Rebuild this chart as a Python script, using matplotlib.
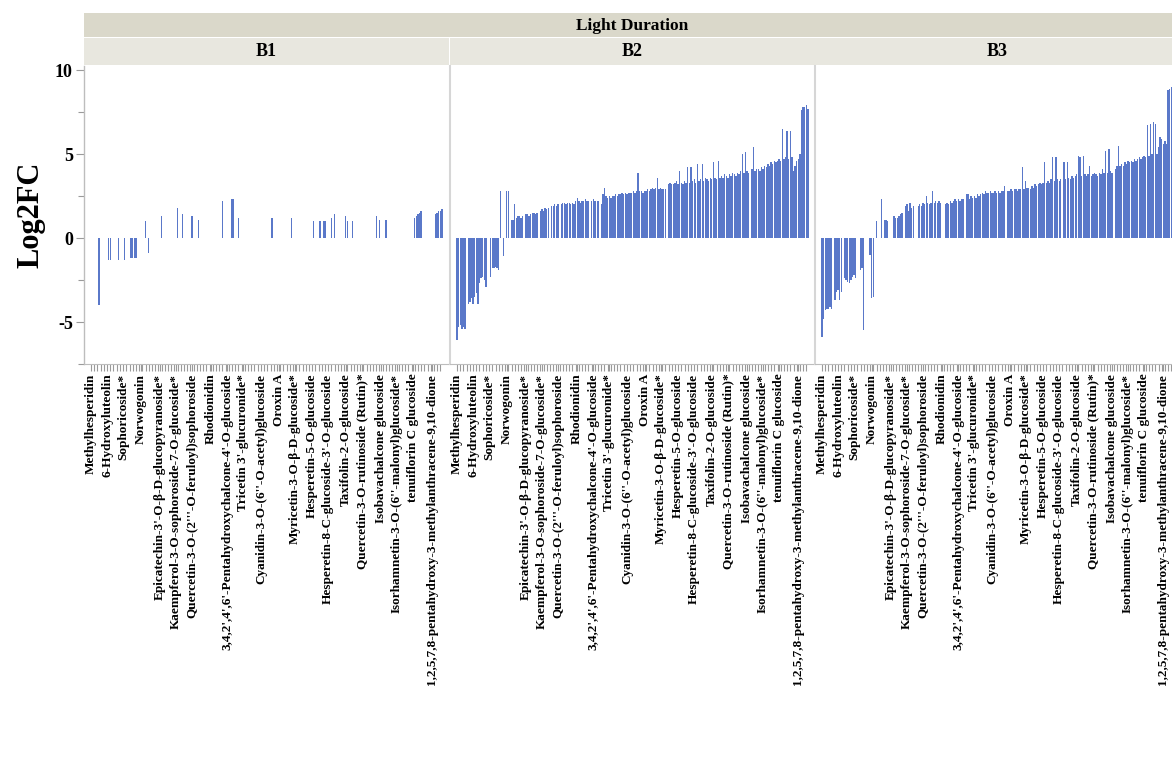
import numpy as np
import matplotlib
matplotlib.use("Agg")
import matplotlib.pyplot as plt

# ---------------- data ----------------
panels = ["B1", "B2", "B3"]
header = "Light Duration"
n_compounds = 220

label_index = [0, 10, 20, 31, 43, 53, 63, 75, 85, 95, 106, 117, 127, 138, 148,
               159, 169, 181, 191, 201, 213]
label_names = [
    "Methylhesperidin",
    "6-Hydroxyluteolin",
    "Sophoricoside*",
    "Norwogonin",
    "Epicatechin-3'-O-β-D-glucopyranoside*",
    "Kaempferol-3-O-sophoroside-7-O-glucoside*",
    "Quercetin-3-O-(2'''-O-feruloyl)sophoroside",
    "Rhodionidin",
    "3,4,2',4',6'-Pentahydroxychalcone-4'-O-glucoside",
    "Tricetin 3'-glucuronide*",
    "Cyanidin-3-O-(6''-O-acetyl)glucoside",
    "Oroxin A",
    "Myricetin-3-O-β-D-glucoside*",
    "Hesperetin-5-O-glucoside",
    "Hesperetin-8-C-glucoside-3'-O-glucoside",
    "Taxifolin-2-O-glucoside",
    "Quercetin-3-O-rutinoside (Rutin)*",
    "Isobavachalcone glucoside",
    "Isorhamnetin-3-O-(6''-malonyl)glucoside*",
    "tenuiflorin C glucoside",
    "1,2,5,7,8-pentahydroxy-3-methylanthracene-9,10-dione",
]

b1_log2fc = [
    0, 0, 0, 0, 0, -4.0, 0, 0, 0, 0,
    0, -1.3, -1.3, 0, 0, 0, 0, -1.3, 0, 0,
    0, -1.3, 0, 0, 0, -1.2, -1.2, -1.2, -1.2, 0,
    0, 0, 0, 0, 1.0, 0, -0.9, 0, 0, 0,
    0, 0, 0, 0, 1.3, 0, 0, 0, 0, 0,
    0, 0, 0, 0, 1.8, 0, 0, 1.4, 0, 0,
    0, 0, 0, 1.3, 0, 0, 0, 1.1, 0, 0,
    0, 0, 0, 0, 0, 0, 0, 0, 0, 0,
    0, 0, 2.2, 0, 0, 0, 0, 0, 2.3, 2.3,
    0, 0, 1.2, 0, 0, 0, 0, 0, 0, 0,
    0, 0, 0, 0, 0, 0, 0, 0, 0, 0,
    0, 0, 0, 1.2, 0, 0, 0, 0, 0, 0,
    0, 0, 0, 0, 0, 1.2, 0, 0, 0, 0,
    0, 0, 0, 0, 0, 0, 0, 0, 0, 1.0,
    0, 0, 0, 1.0, 0, 1.0, 1.0, 0, 0, 0,
    1.2, 0, 1.4, 0, 0, 0, 0, 0, 0, 1.3,
    1.0, 0, 0, 1.0, 0, 0, 0, 0, 0, 0,
    0, 0, 0, 0, 0, 0, 0, 0, 1.3, 0,
    1.1, 0, 0, 0, 1.1, 0, 0, 0, 0, 0,
    0, 0, 0, 0, 0, 0, 0, 0, 0, 0,
    0, 0, 1.2, 1.3, 1.4, 1.5, 1.6, 0, 0, 0,
    0, 0, 0, 0, 0, 1.4, 1.5, 1.6, 1.6, 1.7,
]

b2_log2fc = [
    -6.1, -5.3, -5.2, -5.4, -5.3, -5.4, 0, -3.9, -3.8, -3.6,
    -3.9, -3.5, -3.3, -3.9, -2.7, -2.4, -2.3, -2.5, -2.9, 0,
    0, -2.3, -1.8, -1.8, -1.7, -1.8, -1.9, 2.8, 0, -1.1,
    0, 2.8, 2.8, 0, 1.1, 1.1, 2.0, 1.2, 1.3, 1.3,
    1.2, 1.3, 0, 1.4, 1.4, 1.3, 1.4, 1.5, 1.5, 1.4,
    1.5, 0, 1.6, 1.7, 1.6, 1.8, 1.7, 1.8, 0, 1.9,
    1.9, 2.0, 1.9, 2.0, 0, 2.0, 2.1, 2.1, 2.0, 2.1,
    2.1, 2.0, 2.1, 2.0, 2.2, 2.4, 2.2, 2.1, 2.2, 2.2,
    2.3, 2.2, 2.2, 0, 2.2, 2.3, 2.2, 0, 2.2, 0,
    2.0, 2.6, 3.0, 2.5, 2.4, 2.5, 2.4, 2.5, 2.5, 2.6,
    2.5, 2.6, 2.6, 2.7, 2.6, 2.7, 2.6, 2.7, 2.7, 2.7,
    2.8, 2.7, 2.8, 3.9, 2.8, 2.8, 2.7, 2.8, 2.8, 2.9,
    2.8, 2.9, 3.0, 2.9, 3.0, 3.6, 2.9, 3.0, 2.9, 2.9,
    2.9, 0, 3.2, 3.3, 3.2, 3.2, 3.3, 3.4, 3.2, 4.0,
    3.3, 3.2, 3.4, 3.3, 4.2, 3.3, 4.2, 3.4, 3.5, 3.3,
    4.4, 3.4, 3.5, 4.4, 3.4, 3.6, 3.5, 3.4, 3.6, 3.5,
    4.5, 3.6, 3.5, 4.6, 3.6, 3.7, 3.6, 3.8, 3.7, 3.6,
    3.8, 3.7, 3.9, 3.8, 3.7, 3.9, 3.8, 4.0, 5.0, 3.9,
    5.1, 4.0, 3.9, 0, 4.1, 5.4, 4.0, 4.1, 4.1, 4.0,
    4.2, 4.1, 4.3, 4.2, 4.4, 4.3, 4.5, 4.4, 4.6, 4.5,
    4.6, 4.7, 4.6, 6.5, 4.7, 4.8, 6.4, 4.7, 6.4, 4.8,
    4.0, 4.3, 4.6, 4.7, 5.0, 7.6, 7.8, 7.8, 7.9, 7.7,
]

b3_log2fc = [
    -5.9, -4.8, -4.3, -4.2, -4.2, -4.1, -4.2, 0, -3.7, -3.2,
    -3.1, -3.7, -3.2, 0, -2.4, -2.5, -2.6, -2.7, -2.5, -2.3,
    -2.2, -2.4, 0, 0, -1.9, -1.8, -5.5, 0, 0, 0,
    -1.0, -3.6, -3.5, 0, 1.0, 0, 0, 2.3, 0, 1.1,
    1.1, 1.0, 0, 0, 0, 1.3, 1.2, 1.2, 1.3, 1.4,
    1.5, 0, 1.9, 2.0, 1.6, 2.1, 1.8, 1.9, 0, 0,
    1.9, 2.0, 1.9, 2.1, 2.0, 2.5, 2.1, 2.0, 2.1, 2.8,
    2.1, 2.2, 2.1, 2.2, 2.1, 0, 0, 2.0, 2.1, 2.0,
    2.2, 2.1, 2.2, 2.3, 2.2, 2.3, 2.2, 2.3, 2.3, 0,
    2.6, 2.6, 2.3, 2.5, 2.4, 2.5, 2.4, 2.6, 2.5, 2.6,
    2.7, 2.6, 2.8, 2.7, 2.7, 2.8, 2.7, 2.7, 2.8, 2.7,
    2.8, 2.7, 2.8, 2.8, 3.1, 0, 2.8, 2.8, 2.9, 2.8,
    2.9, 2.9, 2.8, 2.9, 2.9, 4.2, 2.9, 3.4, 3.0, 3.0,
    2.9, 3.1, 3.0, 3.2, 3.1, 3.2, 3.3, 3.2, 3.3, 4.5,
    3.3, 3.4, 3.3, 3.5, 4.8, 3.4, 4.8, 3.5, 3.4, 3.5,
    0, 4.5, 3.5, 4.5, 3.6, 3.5, 3.7, 3.6, 3.7, 3.8,
    4.9, 4.8, 3.7, 4.9, 3.8, 3.7, 3.8, 4.3, 3.7, 3.8,
    3.9, 3.8, 3.7, 3.9, 3.8, 4.1, 3.9, 5.2, 3.9, 5.3,
    4.0, 3.9, 0, 4.1, 4.3, 5.5, 4.3, 4.4, 4.3, 4.5,
    4.4, 4.6, 4.5, 4.6, 4.5, 4.7, 4.6, 4.7, 4.8, 4.7,
    4.8, 4.9, 4.8, 6.7, 4.9, 6.8, 5.0, 6.9, 6.8, 5.0,
    5.4, 6.0, 5.9, 5.6, 5.8, 5.6, 8.8, 8.9, 9.0, 9.0,
]

panel_values = [b1_log2fc, b2_log2fc, b3_log2fc]
y_major = [-5, 0, 5, 10]
y_minor = [-7.5, -2.5, 2.5, 7.5]

# ---------------- style / layout ----------------
W, H = 1172, 774
plt.rcParams['font.family'] = ['Liberation Serif', 'DejaVu Serif']
plt.rcParams['font.weight'] = 'bold'
fig = plt.figure(figsize=(W / 100, H / 100), dpi=100)

def fx(px):
    return px / W

def fy(py):
    return 1 - py / H

bar_color = '#5a78c9'
spine_color = '#bdbdbd'
sep_color = '#d6d6d6'
tick_color = '#9a9a9a'
lefts = [84, 450, 815]
pw = 365
top_px, bottom_px = 66, 364

for i, (name, vals) in enumerate(zip(panels, panel_values)):
    ax = fig.add_axes([fx(lefts[i]), fy(bottom_px), pw / W, (bottom_px - top_px) / H])
    x = np.arange(len(vals))
    ax.bar(x, vals, width=0.85, color=bar_color, linewidth=0)
    ax.set_xlim(-4.4, len(vals) - 1 + 4.4)
    ax.set_ylim(-7.5, 10.24)
    ax.spines['top'].set_visible(False)
    ax.spines['right'].set_visible(False)
    ax.spines['bottom'].set_color(spine_color)
    ax.spines['left'].set_color(spine_color if i == 0 else sep_color)
    ax.spines['left'].set_linewidth(1.0 if i == 0 else 1.5)
    ax.set_xticks(label_index)
    ax.set_xticklabels(label_names, rotation=90, fontsize=9.5, fontweight='bold')
    ax.set_xticks(np.arange(0, len(vals), 2), minor=True)
    ax.tick_params(axis='x', which='both', length=5, color=tick_color, width=0.8, pad=2)
    if i == 0:
        ax.set_yticks(y_major)
        ax.set_yticklabels([str(v) for v in y_major], fontsize=13, fontweight='bold')
        ax.set_yticks(y_minor, minor=True)
        ax.tick_params(axis='y', which='major', length=6, color=tick_color, width=0.8, pad=2)
        ax.tick_params(axis='y', which='minor', length=4, color=tick_color, width=0.8)
    else:
        ax.tick_params(axis='y', which='both', left=False, labelleft=False)

    # facet strip
    sax = fig.add_axes([fx(lefts[i]), fy(65), pw / W, 27 / H])
    sax.set_facecolor('#e8e7df')
    sax.set_xticks([])
    sax.set_yticks([])
    for s in sax.spines.values():
        s.set_visible(False)
    sax.text(0.5, 0.5, name, ha='center', va='center', fontsize=13,
             fontweight='bold', transform=sax.transAxes)

# top header strip
hax = fig.add_axes([fx(84), fy(37), (lefts[2] + pw - 84) / W, 24 / H])
hax.set_facecolor('#dad8ca')
hax.set_xticks([])
hax.set_yticks([])
for s in hax.spines.values():
    s.set_visible(False)
hax.text(0.5, 0.45, header, ha='center', va='center', fontsize=12.5,
         fontweight='bold', transform=hax.transAxes)

fig.text(fx(31), fy(215), "Log2FC", rotation=90, ha='center', va='center',
         fontsize=22, fontweight='bold')

fig.savefig("out.png", dpi=100)
